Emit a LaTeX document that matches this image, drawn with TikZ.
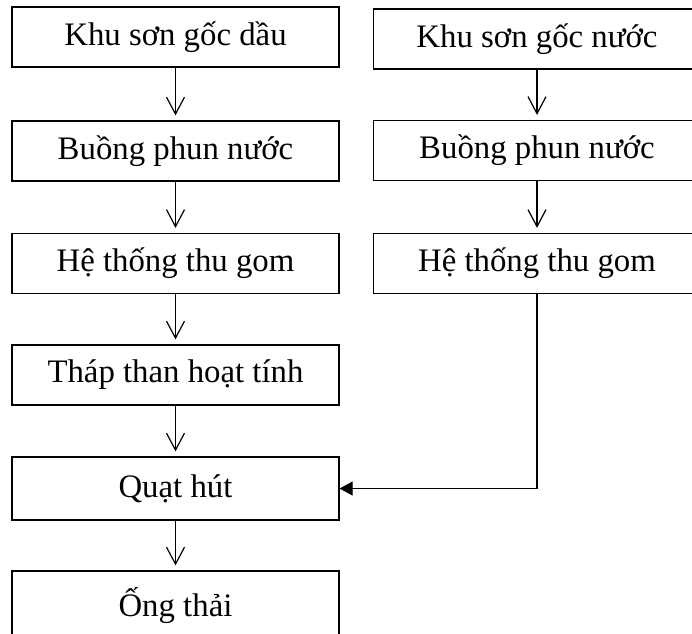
\documentclass[tikz,border=0pt]{standalone}
\usepackage{fontspec}
\setmainfont{Liberation Serif}
\usetikzlibrary{arrows.meta}
\begin{document}
\begin{tikzpicture}[x=0.75pt,y=-0.75pt,
  box/.style={draw, line width=0.9pt, minimum width=327*0.75pt, minimum height=60*0.75pt,
    inner sep=0pt, font=\fontsize{24.6}{29}\selectfont},
  flow/.style={line width=0.9pt, -{Straight Barb[length=12.75pt,width=13.5pt]}, shorten >=3.75pt},
  mergearrow/.style={line width=0.9pt, -{Triangle[length=9.75pt,width=10.5pt]}}]
\useasboundingbox (0,0) rectangle (692,633);
\clip (0,0) rectangle (692,633);
\node[box] (l1) at (175.5,37) {Khu sơn gốc dầu};
\node[box] (l2) at (175.5,151) {Buồng phun nước};
\node[box] (l3) at (175.5,263.5) {Hệ thống thu gom};
\node[box] (l4) at (175.5,375) {Tháp than hoạt tính};
\node[box, minimum height=63*0.75pt] (l5) at (175.5,488.5) {Quạt hút};
\node[box, minimum height=68*0.75pt] (l6) at (175.5,605) {Ống thải};
\node[box] (r1) at (537,39) {Khu sơn gốc nước};
\node[box] (r2) at (537,150.5) {Buồng phun nước};
\node[box] (r3) at (537,263.5) {Hệ thống thu gom};
\draw[flow] (l1.south) -- (l2.north);
\draw[flow] (l2.south) -- (l3.north);
\draw[flow] (l3.south) -- (l4.north);
\draw[flow] (l4.south) -- (l5.north);
\draw[flow] (l5.south) -- (l6.north);
\draw[flow] (r1.south) -- (r2.north);
\draw[flow] (r2.south) -- (r3.north);
\draw[mergearrow] (r3.south) |- (l5.east);
\end{tikzpicture}
\end{document}
